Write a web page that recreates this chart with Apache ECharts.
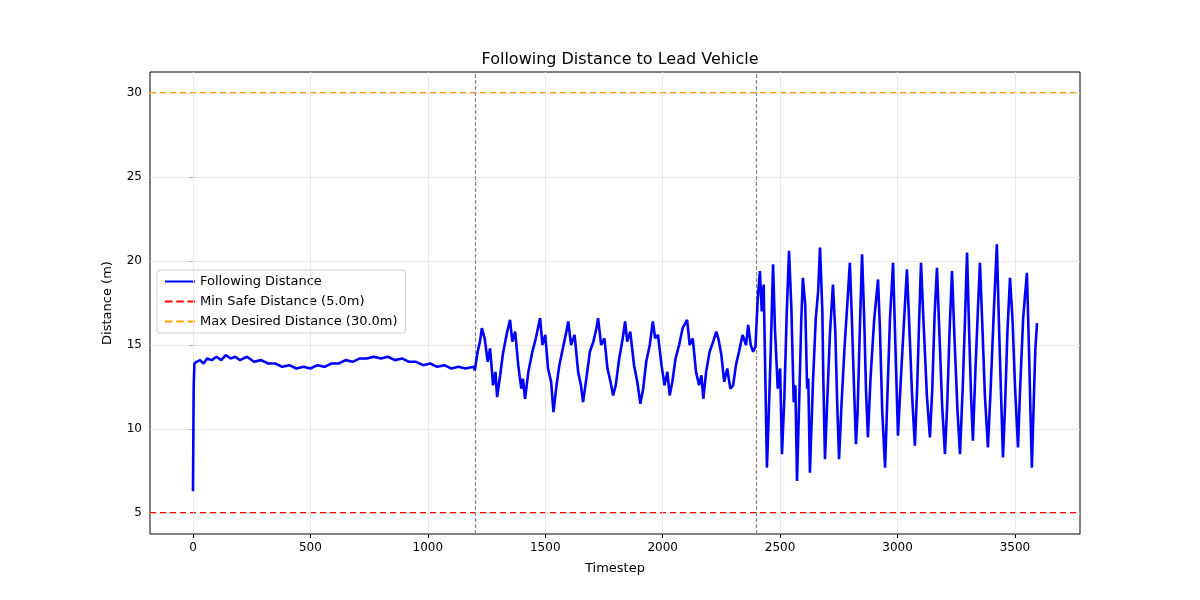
<!DOCTYPE html>
<html lang="en">
<head>
<meta charset="UTF-8" />
<title>Following Distance</title>
<style>
  body { margin: 0; background: #fff; }
  #main { width: 1200px; height: 600px; }
</style>
</head>
<body>
<div id="main"></div>
<script src="https://cdn.jsdelivr.net/npm/echarts@6/dist/echarts.min.js"></script>
<script>
  // hand-read [timestep, distance] points
  var steadyPart = [
    [0, 6.3], [3, 12.5], [6, 13.9], [15, 14.0], [30, 14.1], [45, 13.9], [60, 14.2], [80, 14.1], [100, 14.3],
    [120, 14.1], [140, 14.4], [160, 14.2], [180, 14.3], [200, 14.1], [230, 14.3], [260, 14.0], [290, 14.1],
    [320, 13.9], [350, 13.9], [380, 13.7], [410, 13.8], [440, 13.6], [470, 13.7], [500, 13.6], [530, 13.8],
    [560, 13.7], [590, 13.9], [620, 13.9], [650, 14.1], [680, 14.0], [710, 14.2], [740, 14.2], [770, 14.3],
    [800, 14.2], [830, 14.3], [860, 14.1], [890, 14.2], [920, 14.0], [950, 14.0], [980, 13.8], [1010, 13.9],
    [1040, 13.7], [1070, 13.8], [1100, 13.6], [1130, 13.7], [1160, 13.6], [1195, 13.7]
  ];
  var wavePart = [
    [1200, 13.5], [1212, 14.6], [1222, 15.2], [1230, 16.0], [1242, 15.4], [1255, 14.0], [1265, 14.8], [1278, 12.6],
    [1288, 13.4], [1295, 11.9], [1308, 13.2], [1320, 14.5], [1335, 15.6], [1350, 16.5], [1360, 15.2], [1372, 15.8],
    [1385, 13.8], [1398, 12.4], [1405, 13.0], [1414, 11.8], [1428, 13.4], [1445, 14.6], [1460, 15.4], [1478, 16.6],
    [1488, 15.0], [1500, 15.6], [1512, 13.6], [1525, 12.8], [1535, 11.0], [1548, 12.6], [1560, 13.8], [1575, 14.8],
    [1590, 15.8], [1598, 16.4], [1610, 15.0], [1625, 15.6], [1640, 13.4], [1652, 12.6], [1661, 11.6], [1675, 13.0],
    [1690, 14.6], [1705, 15.2], [1718, 16.0], [1725, 16.6], [1738, 15.0], [1752, 15.4], [1765, 13.6], [1778, 12.8],
    [1789, 12.0], [1800, 12.6], [1815, 14.2], [1830, 15.4], [1840, 16.4], [1849, 15.2], [1862, 15.8], [1878, 13.8],
    [1892, 12.8], [1905, 11.5], [1917, 12.4], [1930, 14.0], [1945, 15.0], [1958, 16.4], [1968, 15.4], [1980, 15.6],
    [1995, 13.8], [2008, 12.6], [2020, 13.4], [2030, 12.0], [2041, 12.8], [2055, 14.2], [2070, 15.0], [2085, 16.0],
    [2104, 16.5], [2115, 15.0], [2128, 15.4], [2142, 13.4], [2155, 12.6], [2165, 13.2], [2173, 11.8], [2185, 13.4],
    [2200, 14.6], [2215, 15.2], [2228, 15.8], [2237, 15.4], [2250, 14.4], [2262, 12.8], [2275, 13.6], [2288, 12.4],
    [2300, 12.6], [2312, 13.8], [2325, 14.6], [2340, 15.6], [2355, 15.0], [2364, 16.2], [2375, 15.0], [2385, 14.6],
    [2395, 14.9]
  ];
  var surgePart = [
    [2400, 14.8], [2405, 17.8], [2414, 19.4], [2422, 17.0], [2430, 18.6], [2444, 7.7], [2452, 11.0], [2460, 14.6],
    [2470, 19.8], [2478, 16.0], [2490, 12.4], [2500, 13.6], [2508, 8.5], [2518, 11.8], [2528, 16.8], [2538, 20.6],
    [2548, 17.2], [2558, 11.6], [2565, 12.6], [2572, 6.9], [2582, 12.0], [2590, 16.4], [2597, 19.0], [2607, 17.4],
    [2615, 12.4], [2620, 13.0], [2627, 7.4], [2640, 12.8], [2652, 16.6], [2662, 18.2], [2670, 20.8], [2680, 17.0],
    [2684, 13.0], [2691, 8.2], [2700, 11.4], [2712, 15.6], [2725, 18.6], [2735, 15.8], [2743, 11.6], [2751, 8.2],
    [2762, 11.6], [2775, 15.0], [2787, 17.6], [2797, 19.9], [2805, 16.8], [2815, 12.4], [2823, 9.1], [2830, 11.0],
    [2840, 16.2], [2849, 20.4], [2858, 16.6], [2866, 12.2], [2874, 9.5], [2885, 13.0], [2900, 16.4], [2917, 18.9],
    [2925, 16.0], [2935, 11.0], [2947, 7.7], [2956, 11.6], [2968, 16.6], [2981, 19.9], [2990, 15.4], [3002, 9.6],
    [3012, 12.4], [3026, 16.0], [3040, 19.5], [3050, 16.2], [3062, 12.0], [3074, 9.0], [3084, 12.6], [3092, 16.4],
    [3100, 19.9], [3110, 16.6], [3125, 12.0], [3138, 9.5], [3148, 12.4], [3158, 16.8], [3168, 19.6], [3178, 15.8],
    [3190, 11.4], [3202, 8.5], [3212, 11.6], [3222, 16.0], [3232, 19.4], [3242, 15.6], [3255, 11.2], [3266, 8.5],
    [3278, 12.6], [3288, 16.8], [3296, 20.5], [3305, 15.8], [3313, 12.0], [3321, 9.3], [3332, 13.6], [3342, 17.0],
    [3351, 19.9], [3360, 16.6], [3372, 12.0], [3385, 8.9], [3396, 12.2], [3410, 17.0], [3423, 21.0], [3432, 16.2],
    [3440, 12.4], [3449, 8.3], [3458, 11.4], [3468, 15.8], [3479, 19.0], [3490, 16.4], [3500, 12.6], [3513, 8.9],
    [3522, 12.4], [3535, 16.6], [3551, 19.3], [3560, 14.6], [3566, 11.0], [3572, 7.7], [3580, 11.6], [3587, 14.8],
    [3594, 16.3]
  ];
  var xTicks = [0, 500, 1000, 1500, 2000, 2500, 3000, 3500];
  var yTicks = [5, 10, 15, 20, 25, 30];
  var phaseMarks = [1200, 2400];
  var minSafe = 5.0;
  var maxDesired = 30.0;

  var xMin = -183, xMax = 3777, yMin = 3.75, yMax = 31.25;
  var distance = steadyPart.concat(wavePart, surgePart);
  var gridColor = "#e3e3e3";

  var chart = echarts.init(document.getElementById("main"));
  var gridLines = xTicks.map(function (v) { return { xAxis: v, lineStyle: { color: gridColor, type: "solid", width: 0.8 } }; })
    .concat(yTicks.map(function (v) { return { yAxis: v, lineStyle: { color: gridColor, type: "solid", width: 0.8 } }; }))
    .concat(phaseMarks.map(function (v) { return { xAxis: v, lineStyle: { color: "#888", type: [4, 2], width: 1.2 } }; }));

  function plain(v) { return String(v); }

  chart.setOption({
    animation: false,
    title: {
      text: "Following Distance to Lead Vehicle", left: 615, top: 47, textAlign: "center",
      textStyle: { fontFamily: "DejaVu Sans", fontSize: 16, fontWeight: "normal", color: "#000" }
    },
    legend: {
      orient: "vertical", left: 157, top: 270, itemWidth: 30, itemHeight: 2, itemGap: 7,
      backgroundColor: "#fff", borderColor: "#ccc", borderWidth: 1, borderRadius: 3, padding: [5, 8],
      textStyle: { fontFamily: "DejaVu Sans", fontSize: 13, color: "#000" },
      data: [
        { name: "Following Distance", icon: "rect" },
        { name: "Min Safe Distance (5.0m)", icon: "path://M0,0H4V1H0Z M6,0H10V1H6Z M12,0H16V1H12Z" },
        { name: "Max Desired Distance (30.0m)", icon: "path://M0,0H4V1H0Z M6,0H10V1H6Z M12,0H16V1H12Z" }
      ]
    },
    grid: { left: 150, right: 120, top: 72, bottom: 66, show: true, borderColor: "#000", borderWidth: 1 },
    xAxis: {
      type: "value", min: xMin, max: xMax, name: "Timestep", nameLocation: "middle", nameGap: 28,
      nameTextStyle: { fontFamily: "DejaVu Sans", fontSize: 13, color: "#000" },
      splitLine: { show: false },
      axisLine: { show: false },
      axisTick: { show: true, customValues: xTicks, length: 4, lineStyle: { color: "#000" } },
      axisLabel: { customValues: xTicks, formatter: plain, fontFamily: "DejaVu Sans", fontSize: 12, color: "#000" }
    },
    yAxis: {
      type: "value", min: yMin, max: yMax, name: "Distance (m)", nameLocation: "middle", nameGap: 36,
      nameTextStyle: { fontFamily: "DejaVu Sans", fontSize: 13, color: "#000" },
      splitLine: { show: false },
      axisLine: { show: false },
      axisTick: { show: true, customValues: yTicks, length: 4, lineStyle: { color: "#000" } },
      axisLabel: { customValues: yTicks, formatter: plain, fontFamily: "DejaVu Sans", fontSize: 12, color: "#000" }
    },
    series: [
      {
        name: "grid", type: "line", data: [], silent: true,
        markLine: { silent: true, symbol: "none", label: { show: false }, data: gridLines }
      },
      {
        name: "Following Distance", type: "line", data: distance, showSymbol: false, z: 5,
        lineStyle: { color: "#0000ff", width: 2.6 }, itemStyle: { color: "#0000ff" }
      },
      {
        name: "Min Safe Distance (5.0m)", type: "line", data: [[xMin, minSafe], [xMax, minSafe]], showSymbol: false,
        lineStyle: { color: "#ff0000", type: [6, 4], width: 1.8 }, itemStyle: { color: "#ff0000" }
      },
      {
        name: "Max Desired Distance (30.0m)", type: "line", data: [[xMin, maxDesired], [xMax, maxDesired]], showSymbol: false,
        lineStyle: { color: "#ffa500", type: [6, 4], width: 1.8 }, itemStyle: { color: "#ffa500" }
      }
    ]
  });
</script>
</body>
</html>
